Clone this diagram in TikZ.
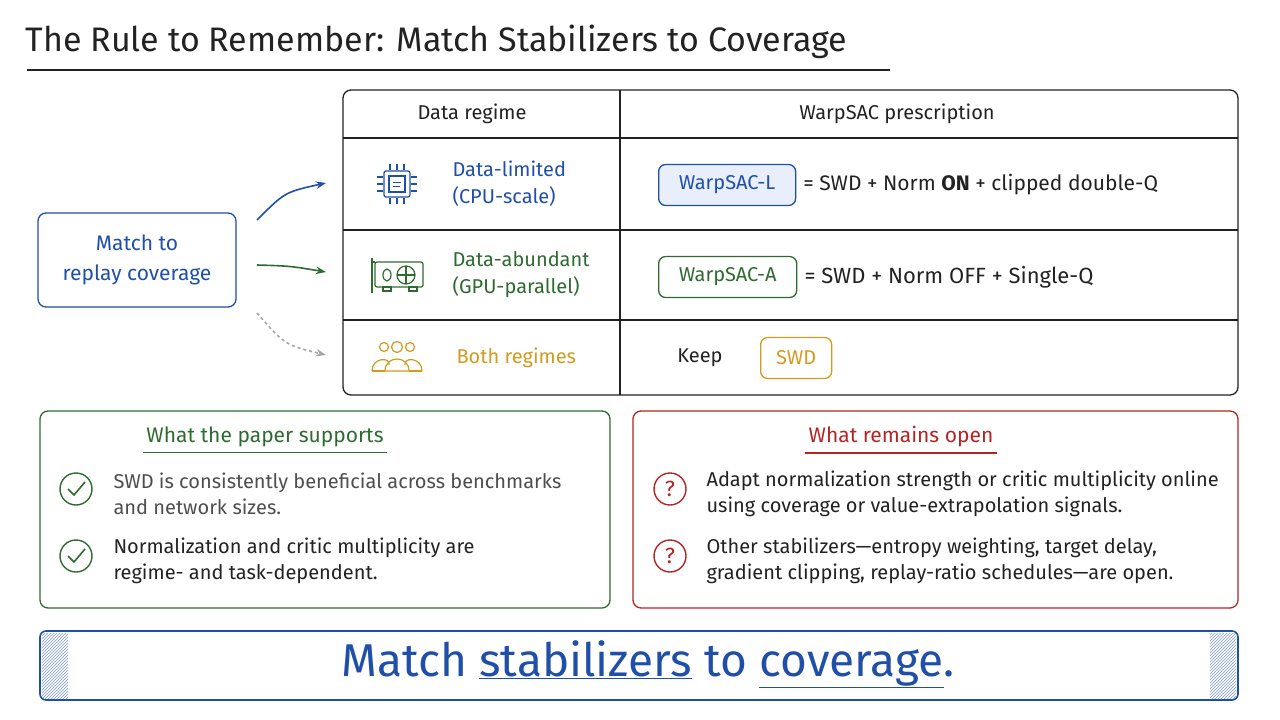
\documentclass[tikz,border=0pt]{standalone}
\usepackage{fontspec}
\setmainfont{Fira Sans}
\usetikzlibrary{positioning,patterns,arrows.meta}
\definecolor{ink}{HTML}{222222}
\definecolor{cblue}{HTML}{1F4FA8}
\definecolor{cgreen}{HTML}{2E6B30}
\definecolor{corange}{HTML}{D49A1E}
\definecolor{cred}{HTML}{B52424}
\definecolor{lblue}{HTML}{E8EFFA}
\tikzset{
  body/.style={font=\fontsize{20}{26}\selectfont,text=ink},
  frame/.style={draw=#1,line width=1.3pt,rounded corners=8pt},
  tag/.style={draw=#1,line width=1.3pt,rounded corners=7pt,minimum height=41pt,inner xsep=9pt,font=\fontsize{20}{24}\selectfont,text=#1},
  regime/.style={anchor=west,align=left,font=\fontsize{20}{27}\selectfont,text=#1},
  link/.style={-{Stealth[length=10pt]},line width=1.6pt,#1},
}
\begin{document}
\begin{tikzpicture}[x=1pt,y=-1pt]
\useasboundingbox (0,0) rectangle (1280,720);
% title
\node[anchor=west,font=\fontsize{34}{38}\selectfont,text=ink] (title) at (22,42) {The Rule to Remember: Match Stabilizers to Coverage};
\draw[line width=1.8pt,ink] (27,70) -- (890,70);

% table
\draw[frame=ink] (343,90) rectangle (1238,395);
\draw[line width=1.2pt,ink] (620,90) -- (620,395);
\foreach \y in {138,230,320} \draw[line width=1.2pt,ink] (343,\y) -- (1238,\y);
\node[body] (hreg) at (472,114) {Data regime};
\node[body] (hpre) at (897,114) {WarpSAC prescription};

% row 1
\begin{scope}[shift={(397,184)},cblue,line width=1.2pt]
  \draw[rounded corners=2pt] (-13,-13) rectangle (13,13);
  \draw (-8,-8) rectangle (8,8);
  \foreach \t in {-7,0,7} {\draw (\t,-14)--(\t,-20); \draw (\t,14)--(\t,20); \draw (-14,\t)--(-20,\t); \draw (14,\t)--(20,\t);}
  \draw[line width=.6pt] (-4,-2)--(4,-2) (-4,2)--(3,2);
\end{scope}
\node[regime=cblue] (rlim) at (449,184) {Data-limited\\(CPU-scale)};
\node[tag=cblue,fill=lblue,anchor=west,minimum width=137pt] (wl) at (658,185) {WarpSAC-L};
\node[body,anchor=west,font=\fontsize{21}{24}\selectfont] (pl) at (wl.east) {\,= SWD + Norm \textbf{ON} + clipped double-Q};

% row 2
\begin{scope}[shift={(397,275)},cgreen,line width=1.2pt]
  \draw (-25,-17)--(-25,18) (-25,-13)--(-22,-13);
  \draw[rounded corners=2pt] (-22,-13) rectangle (26,12);
  \draw (-10,0) ellipse (4pt and 6pt);
  \draw (9,0) circle (9pt);
  \draw (9,-9)--(9,9) (0,0)--(18,0);
  \draw (-14,12) rectangle (-6,16) (12,12) rectangle (20,16);
\end{scope}
\node[regime=cgreen] (rabu) at (449,275) {Data-abundant\\(GPU-parallel)};
\node[tag=cgreen,anchor=west,minimum width=138pt] (wa) at (658,277) {WarpSAC-A};
\node[body,anchor=west,font=\fontsize{22}{24}\selectfont] (pa) at (wa.east) {\,= SWD + Norm OFF + Single-Q};

% row 3
\begin{scope}[shift={(397,357)},corange,line width=1.2pt]
  \foreach \x/\s in {-13/4.5,13/4.5,0/5.5} \draw (\x,-10) circle (\s pt);
  \draw (-25,14) .. controls (-25,0) and (-6,0) .. (-8,8);
  \draw (25,14) .. controls (25,0) and (6,0) .. (8,8);
  \draw (-12,14) .. controls (-12,-2) and (12,-2) .. (12,14) -- cycle;
  \draw (-25,14)--(-12,14) (12,14)--(25,14);
\end{scope}
\node[regime=corange] (rboth) at (453,358) {Both regimes};
\node[body] (keep) at (700,358) {Keep};
\node[tag=corange,anchor=west,minimum width=71pt] (sw) at (760,358) {SWD};

% left box and arrows
\node[frame=cblue,minimum width=198pt,minimum height=94pt,align=center,text=cblue,font=\fontsize{21}{30}\selectfont] (match) at (137,260) {Match to\\replay coverage};
\coordinate (a1) at (326,183);
\coordinate (a2) at (326,272);
\coordinate (a3) at (326,355);
\coordinate (s1) at (257,220);
\coordinate (s2) at (257,265);
\coordinate (s3) at (257,313);
\draw[link=cblue] (s1) .. controls (285,192) .. (a1);
\draw[link=cgreen] (s2) .. controls (290,266) .. (a2);
\draw[link={gray!70},dashed] (s3) .. controls (285,345) .. (a3);

% supports
\draw[frame=cgreen] (40,411) rectangle (610,608);
\node[font=\fontsize{21}{24}\selectfont,text=cgreen] (hsup) at (265,437) {What the paper supports};
\draw[cgreen,line width=1.2pt] ([yshift=-2pt]hsup.south west) -- ([yshift=-2pt]hsup.south east);
\foreach \y/\t [count=\i] in {489/{\textcolor{ink!80}{SWD is consistently beneficial across benchmarks}\\\textcolor{ink!80}{and network sizes.}},556/{Normalization and critic multiplicity are\\regime- and task-dependent.}} {
  \draw[cgreen,line width=1.4pt] (76,\y) circle (16pt);
  \draw[cgreen,line width=1.6pt] (68,\y) -- (74,\y+6) -- (85,\y-7);
  \node[body,anchor=west,align=left] (sup\i) at (110,\y+5) {\t};
}

% open
\draw[frame=cred] (633,411) rectangle (1238,608);
\node[font=\fontsize{21}{24}\selectfont,text=cred] (hopen) at (901,437) {What remains open};
\draw[cred,line width=1.2pt] ([yshift=-2pt]hopen.south west) -- ([yshift=-2pt]hopen.south east);
\foreach \y/\t [count=\i] in {489/{Adapt normalization strength or critic multiplicity online\\using coverage or value-extrapolation signals.},556/{Other stabilizers---entropy weighting, target delay,\\gradient clipping, replay-ratio schedules---are open.}} {
  \draw[cred,line width=1.4pt] (670,\y) circle (16pt);
  \node[text=cred,font=\fontsize{22}{24}\selectfont] (q\i) at (670,\y) {?};
  \node[body,anchor=west,align=left] (open\i) at (703,\y+5) {\t};
}

% banner
\fill[pattern=north east lines,pattern color=cblue!60] (42,633) rectangle (68,698);
\fill[pattern=north east lines,pattern color=cblue!60] (1210,633) rectangle (1236,698);
\draw[frame=cblue,line width=1.6pt,rounded corners=6pt] (40,631) rectangle (1238,700);
\node[text=cblue,font=\fontsize{46}{50}\selectfont] (banner) at (648,664) {Match \underline{stabilizers} to \underline{coverage}.};
\end{tikzpicture}
\end{document}
